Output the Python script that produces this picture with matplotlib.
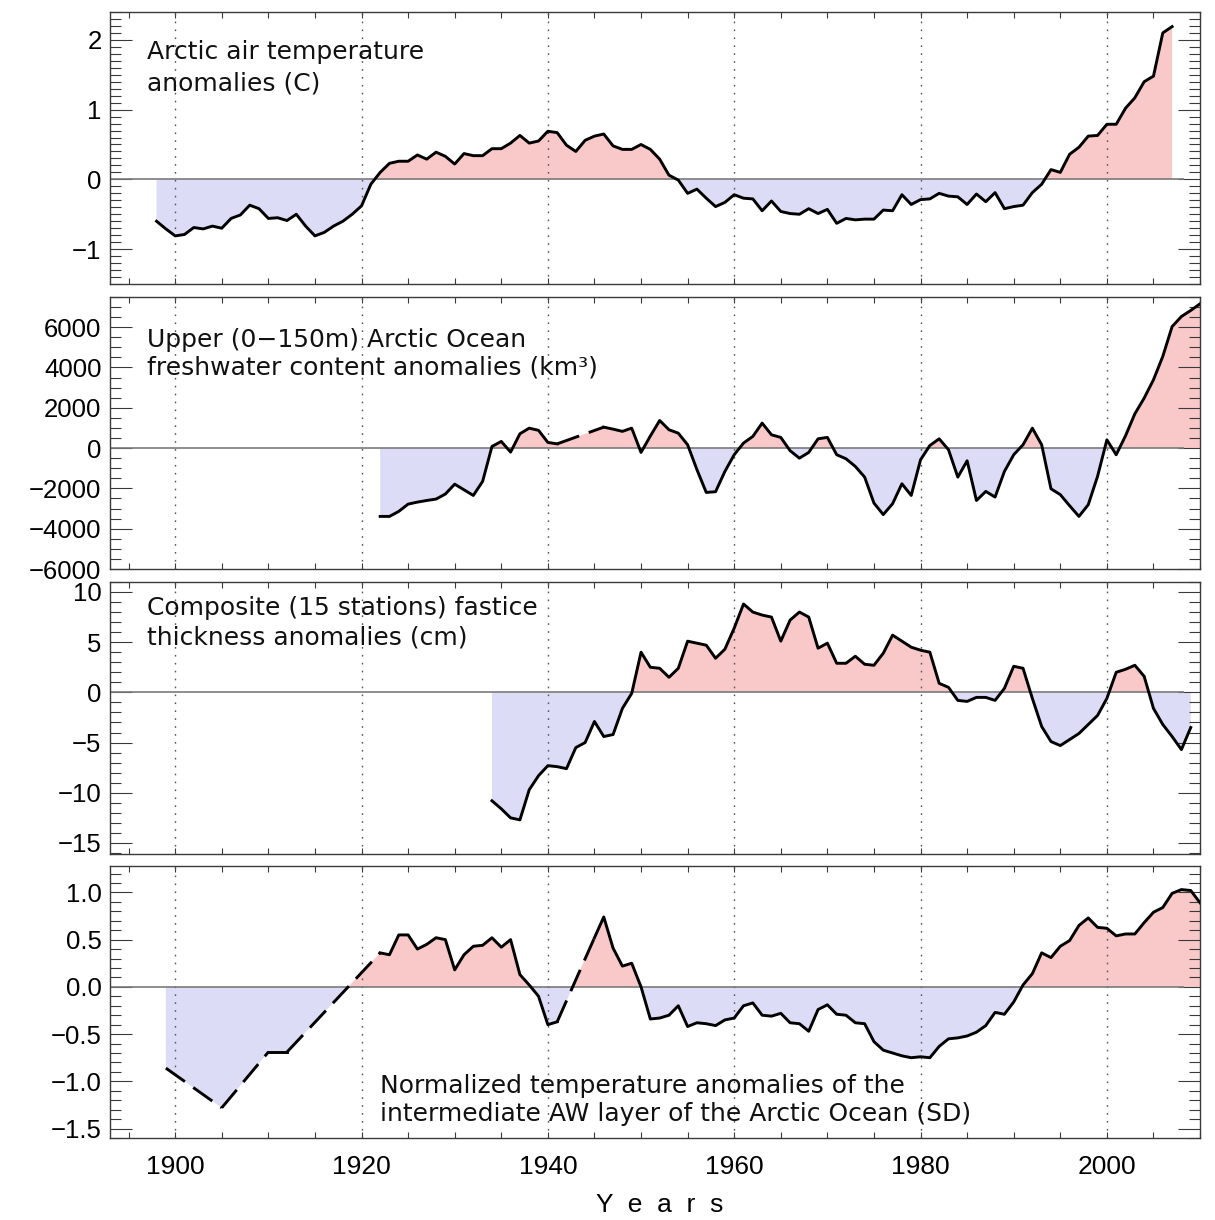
import numpy as np
import matplotlib
matplotlib.use('Agg')
import matplotlib.pyplot as plt
from matplotlib.ticker import MultipleLocator, FixedLocator

# ---- series ----
# Arctic air temperature anomalies (C), 1898-2007
air_years = list(range(1898, 2008))
air_temp = [-0.60, -0.71, -0.81, -0.79, -0.69, -0.71, -0.67, -0.70, -0.56, -0.51,
            -0.37, -0.42, -0.56, -0.55, -0.59, -0.50, -0.67, -0.81, -0.76, -0.67,
            -0.60, -0.50, -0.38, -0.07, 0.10, 0.23, 0.26, 0.26, 0.35, 0.29,
            0.39, 0.33, 0.22, 0.37, 0.34, 0.34, 0.44, 0.44, 0.52, 0.63,
            0.52, 0.55, 0.69, 0.67, 0.49, 0.40, 0.56, 0.62, 0.65, 0.48,
            0.43, 0.43, 0.50, 0.43, 0.29, 0.06, -0.01, -0.20, -0.14, -0.27,
            -0.39, -0.33, -0.22, -0.27, -0.28, -0.45, -0.31, -0.46, -0.49, -0.50,
            -0.42, -0.49, -0.43, -0.63, -0.56, -0.58, -0.57, -0.57, -0.44, -0.45,
            -0.22, -0.36, -0.29, -0.28, -0.20, -0.24, -0.25, -0.36, -0.21, -0.32,
            -0.19, -0.42, -0.39, -0.37, -0.19, -0.07, 0.14, 0.10, 0.36, 0.46,
            0.62, 0.63, 0.79, 0.79, 1.02, 1.17, 1.40, 1.48, 2.10, 2.19]

# Upper ocean freshwater content anomalies (km3), no data 1942-1945
fw_years = list(range(1922, 1942)) + list(range(1946, 2011))
fw_content = [-3390, -3390, -3140, -2780, -2680, -2600, -2530, -2280, -1790, -2070,
              -2350, -1650, 80, 330, -200, 710, 990, 880, 280, 210,
              1040, 940, 830, 990, -215, 600, 1370, 910, 740, 165,
              -1070, -2200, -2165, -1160, -330, 250, 580, 1240, 660, 530,
              -130, -500, -215, 460, 530, -330, -530, -910, -1440, -2730,
              -3300, -2760, -1770, -2350, -580, 130, 460, -80, -1440, -630,
              -2600, -2150, -2430, -1160, -330, 165, 990, 165, -2020, -2310,
              -2860, -3390, -2810, -1400, 410, -330, 610, 1700, 2480, 3390,
              4550, 6030, 6530, 6830, 7160]

# Fast ice thickness anomalies (cm), 1934-2009
ice_years = list(range(1934, 2010))
ice_thick = [-10.8, -11.6, -12.5, -12.7, -9.7, -8.3, -7.3, -7.4, -7.6, -5.5,
             -5.0, -2.9, -4.4, -4.2, -1.6, -0.1, 4.0, 2.5, 2.4, 1.5,
             2.4, 5.1, 4.9, 4.7, 3.4, 4.3, 6.4, 8.8, 8.0, 7.7,
             7.5, 5.1, 7.2, 8.0, 7.5, 4.4, 4.9, 2.9, 2.9, 3.6,
             2.8, 2.7, 3.9, 5.7, 5.1, 4.5, 4.2, 4.0, 0.9, 0.5,
             -0.8, -0.9, -0.5, -0.5, -0.8, 0.4, 2.6, 2.4, -0.6, -3.4,
             -4.9, -5.3, -4.7, -4.1, -3.2, -2.3, -0.6, 2.0, 2.3, 2.7,
             1.6, -1.6, -3.2, -4.4, -5.7, -3.5]

# Normalized AW layer temperature anomalies (SD), sparse before 1922
aw_years = [1899, 1905, 1910, 1911, 1912] + list(range(1922, 1942)) + list(range(1945, 2011))
aw_temp = [-0.86, -1.28, -0.69, -0.69, -0.69,
           0.36, 0.34, 0.55, 0.55, 0.40, 0.45, 0.52, 0.50, 0.18, 0.34,
           0.43, 0.44, 0.52, 0.42, 0.50, 0.13, 0.02, -0.10, -0.40, -0.37,
           0.52, 0.74, 0.41, 0.22, 0.25, 0.00, -0.34, -0.33, -0.30, -0.20,
           -0.42, -0.38, -0.39, -0.41, -0.35, -0.33, -0.20, -0.17, -0.30, -0.31,
           -0.28, -0.38, -0.39, -0.47, -0.24, -0.19, -0.29, -0.30, -0.38, -0.39,
           -0.58, -0.67, -0.70, -0.73, -0.75, -0.74, -0.75, -0.63, -0.55, -0.54,
           -0.52, -0.48, -0.41, -0.27, -0.29, -0.16, 0.02, 0.14, 0.36, 0.31,
           0.43, 0.49, 0.65, 0.73, 0.63, 0.62, 0.54, 0.56, 0.56, 0.68,
           0.79, 0.84, 0.99, 1.03, 1.02, 0.89]

panels = [
    dict(x=air_years, y=air_temp, ylim=(-1.5, 2.4), minor=0.1,
         ticks=[-1, 0, 1, 2], fmt='{:.0f}',
         text=['Arctic air temperature', 'anomalies (C)'],
         tx=0.034, ty=[0.853, 0.737]),
    dict(x=fw_years, y=fw_content, ylim=(-6000, 7500), minor=500,
         ticks=[-6000, -4000, -2000, 0, 2000, 4000, 6000], fmt='{:.0f}',
         text=['Upper (0\u2212150m) Arctic Ocean', 'freshwater content anomalies (km\u00b3)'],
         tx=0.034, ty=[0.842, 0.739]),
    dict(x=ice_years, y=ice_thick, ylim=(-16.1, 11.0), minor=1,
         ticks=[-15, -10, -5, 0, 5, 10], fmt='{:.0f}',
         text=['Composite (15 stations) fastice', 'thickness anomalies (cm)'],
         tx=0.034, ty=[0.904, 0.794]),
    dict(x=aw_years, y=aw_temp, ylim=(-1.6, 1.28), minor=0.1,
         ticks=[-1.5, -1.0, -0.5, 0.0, 0.5, 1.0], fmt='{:.1f}',
         text=['Normalized temperature anomalies of the',
               'intermediate AW layer of the Arctic Ocean (SD)'],
         tx=0.248, ty=[0.19, 0.088]),
]

pink = '#f9c8c8'
blue = '#dcdcf6'
frame = '#3a3a3a'
tickfont = ['Liberation Sans', 'DejaVu Sans']

fig = plt.figure(figsize=(12.15, 12.2), dpi=100)
tops = [0.9902, 0.7566, 0.5230, 0.2902]
height = 0.2230
left, width = 0.0905, 0.8972

for i, p in enumerate(panels):
    ax = fig.add_axes([left, tops[i] - height, width, height])
    x = np.array(p['x'], dtype=float)
    y = np.array(p['y'], dtype=float)

    ax.fill_between(x, y, 0, where=y >= 0, interpolate=True, color=pink, lw=0, zorder=1)
    ax.fill_between(x, y, 0, where=y <= 0, interpolate=True, color=blue, lw=0, zorder=1)

    # dotted year grid and the zero line
    ax.vlines([1900, 1920, 1940, 1960, 1980, 2000], p['ylim'][0], p['ylim'][1],
              colors='#555555', linestyles=(0, (1.2, 4.5)), lw=1.0, zorder=2)
    ax.hlines(0, 1893, 2008.3, colors='#7a7a7a', lw=1.2, zorder=2)

    # solid line where years are consecutive, dashed across missing years
    start = 0
    for k in range(1, len(x) + 1):
        if k == len(x) or x[k] - x[k - 1] > 1:
            if k - start > 1:
                ax.plot(x[start:k], y[start:k], color='black', lw=2.1, zorder=3)
            if k < len(x):
                ax.plot(x[k - 1:k + 1], y[k - 1:k + 1], color='black', lw=2.1,
                        linestyle=(0, (8, 3.5)), zorder=3)
            start = k

    ax.set_xlim(1893, 2010)
    ax.set_ylim(*p['ylim'])
    ax.xaxis.set_major_locator(MultipleLocator(20))
    ax.xaxis.set_minor_locator(MultipleLocator(5))
    ax.yaxis.set_major_locator(FixedLocator(p['ticks']))
    ax.yaxis.set_minor_locator(MultipleLocator(p['minor']))
    ax.set_yticklabels([p['fmt'].format(t).replace('-', '\u2212') for t in p['ticks']],
                       family=tickfont, fontsize=18.5)
    ax.tick_params(axis='y', which='major', direction='in', length=16, width=0.8,
                   color=frame, left=True, right=True, pad=6)
    ax.tick_params(axis='y', which='minor', direction='in', length=8, width=0.8,
                   color=frame, left=True, right=True)
    ax.tick_params(axis='x', which='both', direction='in', length=4.5, width=0.8,
                   color=frame, top=True, bottom=True)
    for s in ax.spines.values():
        s.set_color(frame)
        s.set_linewidth(1.0)

    if i < 3:
        ax.set_xticklabels([])
    else:
        for lab in ax.get_xticklabels():
            lab.set_family(tickfont)
            lab.set_fontsize(19)
        ax.tick_params(axis='x', which='major', pad=12)

    for line, ty in zip(p['text'], p['ty']):
        ax.text(p['tx'], ty, line, transform=ax.transAxes, fontsize=18,
                ha='left', va='center', color='#111111', zorder=4)

fig.text(0.543, 0.0125, 'Y  e  a  r  s', ha='center', va='center', fontsize=19,
         family=tickfont)

fig.savefig('out.png', dpi=100)
